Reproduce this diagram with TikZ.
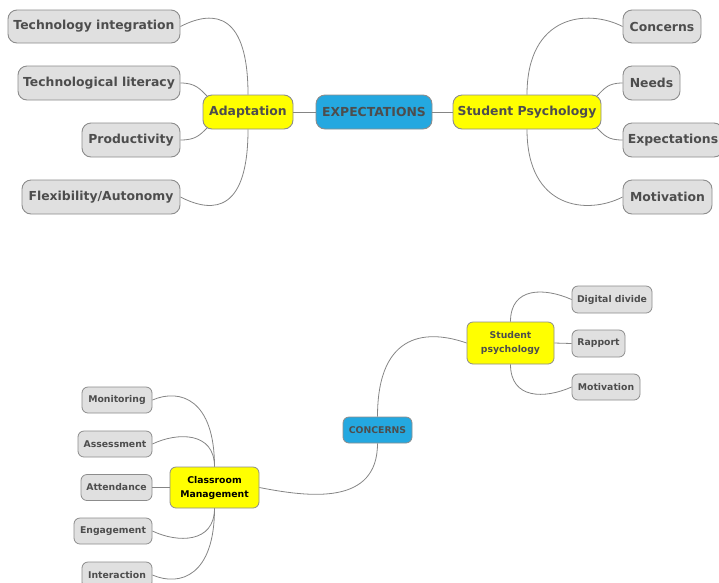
\documentclass[tikz,border=0pt]{standalone}
\usepackage{fontspec}
\setmainfont{DejaVu Sans}
\definecolor{txtgray}{HTML}{4D4D4D}
\definecolor{boxgray}{HTML}{E0E0E0}
\definecolor{bordergray}{HTML}{8C8C8C}
\definecolor{linegray}{HTML}{858585}
\definecolor{hiyellow}{HTML}{FFFF00}
\definecolor{hiblue}{HTML}{24A8E0}
\tikzset{
  bigbox/.style={draw=bordergray, line width=0.9pt, rounded corners=9pt, inner sep=0pt,
     font=\fontsize{12.4}{14}\selectfont\bfseries, text=txtgray, align=center},
  smallbox/.style={draw=bordergray, line width=0.8pt, rounded corners=6pt, inner sep=0pt,
     font=\fontsize{9.3}{14}\selectfont\bfseries, text=txtgray, align=center},
  leaf/.style={fill=boxgray},
  mid/.style={fill=hiyellow},
  root/.style={fill=hiblue},
  link/.style={draw=linegray, line width=0.8pt},
}
\begin{document}
\begin{tikzpicture}[x=1pt,y=-1pt]
\useasboundingbox (0,0) rectangle (719,582);
% ---------- top map ----------
\node[bigbox,root,minimum width=116pt,minimum height=34pt] (exp) at (374,112) {EXPECTATIONS};
\node[bigbox,mid,minimum width=90pt,minimum height=34pt] (adapt) at (248,112) {Adaptation};
\node[bigbox,mid,minimum width=148pt,minimum height=34pt] (sp) at (527,112) {Student Psychology};
\node[bigbox,leaf,minimum width=172pt,minimum height=33pt] (ti) at (94,26.5) {Technology integration};
\node[bigbox,leaf,minimum width=162pt,minimum height=34pt] (tl) at (99,83) {Technological literacy};
\node[bigbox,leaf,minimum width=98pt,minimum height=34pt] (pr) at (131,140) {Productivity};
\node[bigbox,leaf,minimum width=158pt,minimum height=34pt] (fa) at (101,197) {Flexibility/Autonomy};
\node[bigbox,leaf,minimum width=78pt,minimum height=33pt] (co) at (662,26.5) {Concerns};
\node[bigbox,leaf,minimum width=57pt,minimum height=34pt] (ne) at (651.5,83) {Needs};
\node[bigbox,leaf,minimum width=100pt,minimum height=34pt] (ex) at (673,140) {Expectations};
\node[bigbox,leaf,minimum width=89pt,minimum height=34pt] (mo) at (667.5,197) {Motivation};

\draw[link] (adapt.east) -- (exp.west);
\draw[link] (exp.east) -- (sp.west);
\draw[link] (ti.east) .. controls +(35,-18) and +(0,-80) .. (adapt.north);
\draw[link] (tl.east) .. controls +(15,0) and +(-8,-8) .. ([shift={(5,2)}]adapt.north west);
\draw[link] (pr.east) .. controls +(15,0) and +(-8,8) .. ([shift={(5,-2)}]adapt.south west);
\draw[link] (fa.east) .. controls +(35,18) and +(0,80) .. (adapt.south);
\draw[link] (co.west) .. controls +(-35,-18) and +(0,-80) .. (sp.north);
\draw[link] (ne.west) .. controls +(-15,0) and +(8,-8) .. ([shift={(-5,2)}]sp.north east);
\draw[link] (ex.west) .. controls +(-15,0) and +(8,8) .. ([shift={(-5,-2)}]sp.south east);
\draw[link] (mo.west) .. controls +(-35,18) and +(0,80) .. (sp.south);

% ---------- bottom map ----------
\node[smallbox,root,minimum width=69pt,minimum height=26pt] (conc) at (377.5,430) {CONCERNS};
\node[smallbox,mid,minimum width=87pt,minimum height=42pt] (sp2) at (510.5,343) {Student\\psychology};
\node[smallbox,mid,minimum width=89pt,minimum height=41pt,text=black] (cm) at (214.5,487.5) {Classroom\\Management};
\node[smallbox,leaf,minimum width=80pt,minimum height=27pt] (dd) at (612,299.5) {Digital divide};
\node[smallbox,leaf,minimum width=53pt,minimum height=27pt] (ra) at (598.5,343.5) {Rapport};
\node[smallbox,leaf,minimum width=68pt,minimum height=26pt] (mo2) at (606,387) {Motivation};
\node[smallbox,leaf,minimum width=70pt,minimum height=26pt] (mon) at (117,400) {Monitoring};
\node[smallbox,leaf,minimum width=74pt,minimum height=26pt] (ass) at (115,444) {Assessment};
\node[smallbox,leaf,minimum width=71pt,minimum height=26pt] (att) at (116.5,487.5) {Attendance};
\node[smallbox,leaf,minimum width=78pt,minimum height=26pt] (eng) at (113,531) {Engagement};
\node[smallbox,leaf,minimum width=70pt,minimum height=26pt] (int) at (117,575) {Interaction};

\draw[link] (conc.north) .. controls +(0,-87) and +(-37,-13) .. (sp2.west);
\draw[link] (conc.south) .. controls +(0,62) and +(51,10) .. (cm.east);
\draw[link] (dd.west) .. controls +(-27,-12) and +(0,-35) .. (sp2.north);
\draw[link] (sp2.east) -- (ra.west);
\draw[link] (mo2.west) .. controls +(-27,12) and +(0,35) .. (sp2.south);
\draw[link] (mon.east) .. controls +(28,-12) and +(0,-67) .. (cm.north);
\draw[link] (ass.east) .. controls +(25,-12) and +(0,-35) .. (cm.north);
\draw[link] (att.east) -- (cm.west);
\draw[link] (eng.east) .. controls +(25,12) and +(0,35) .. (cm.south);
\draw[link] (int.east) .. controls +(28,12) and +(0,67) .. (cm.south);
\end{tikzpicture}
\end{document}
